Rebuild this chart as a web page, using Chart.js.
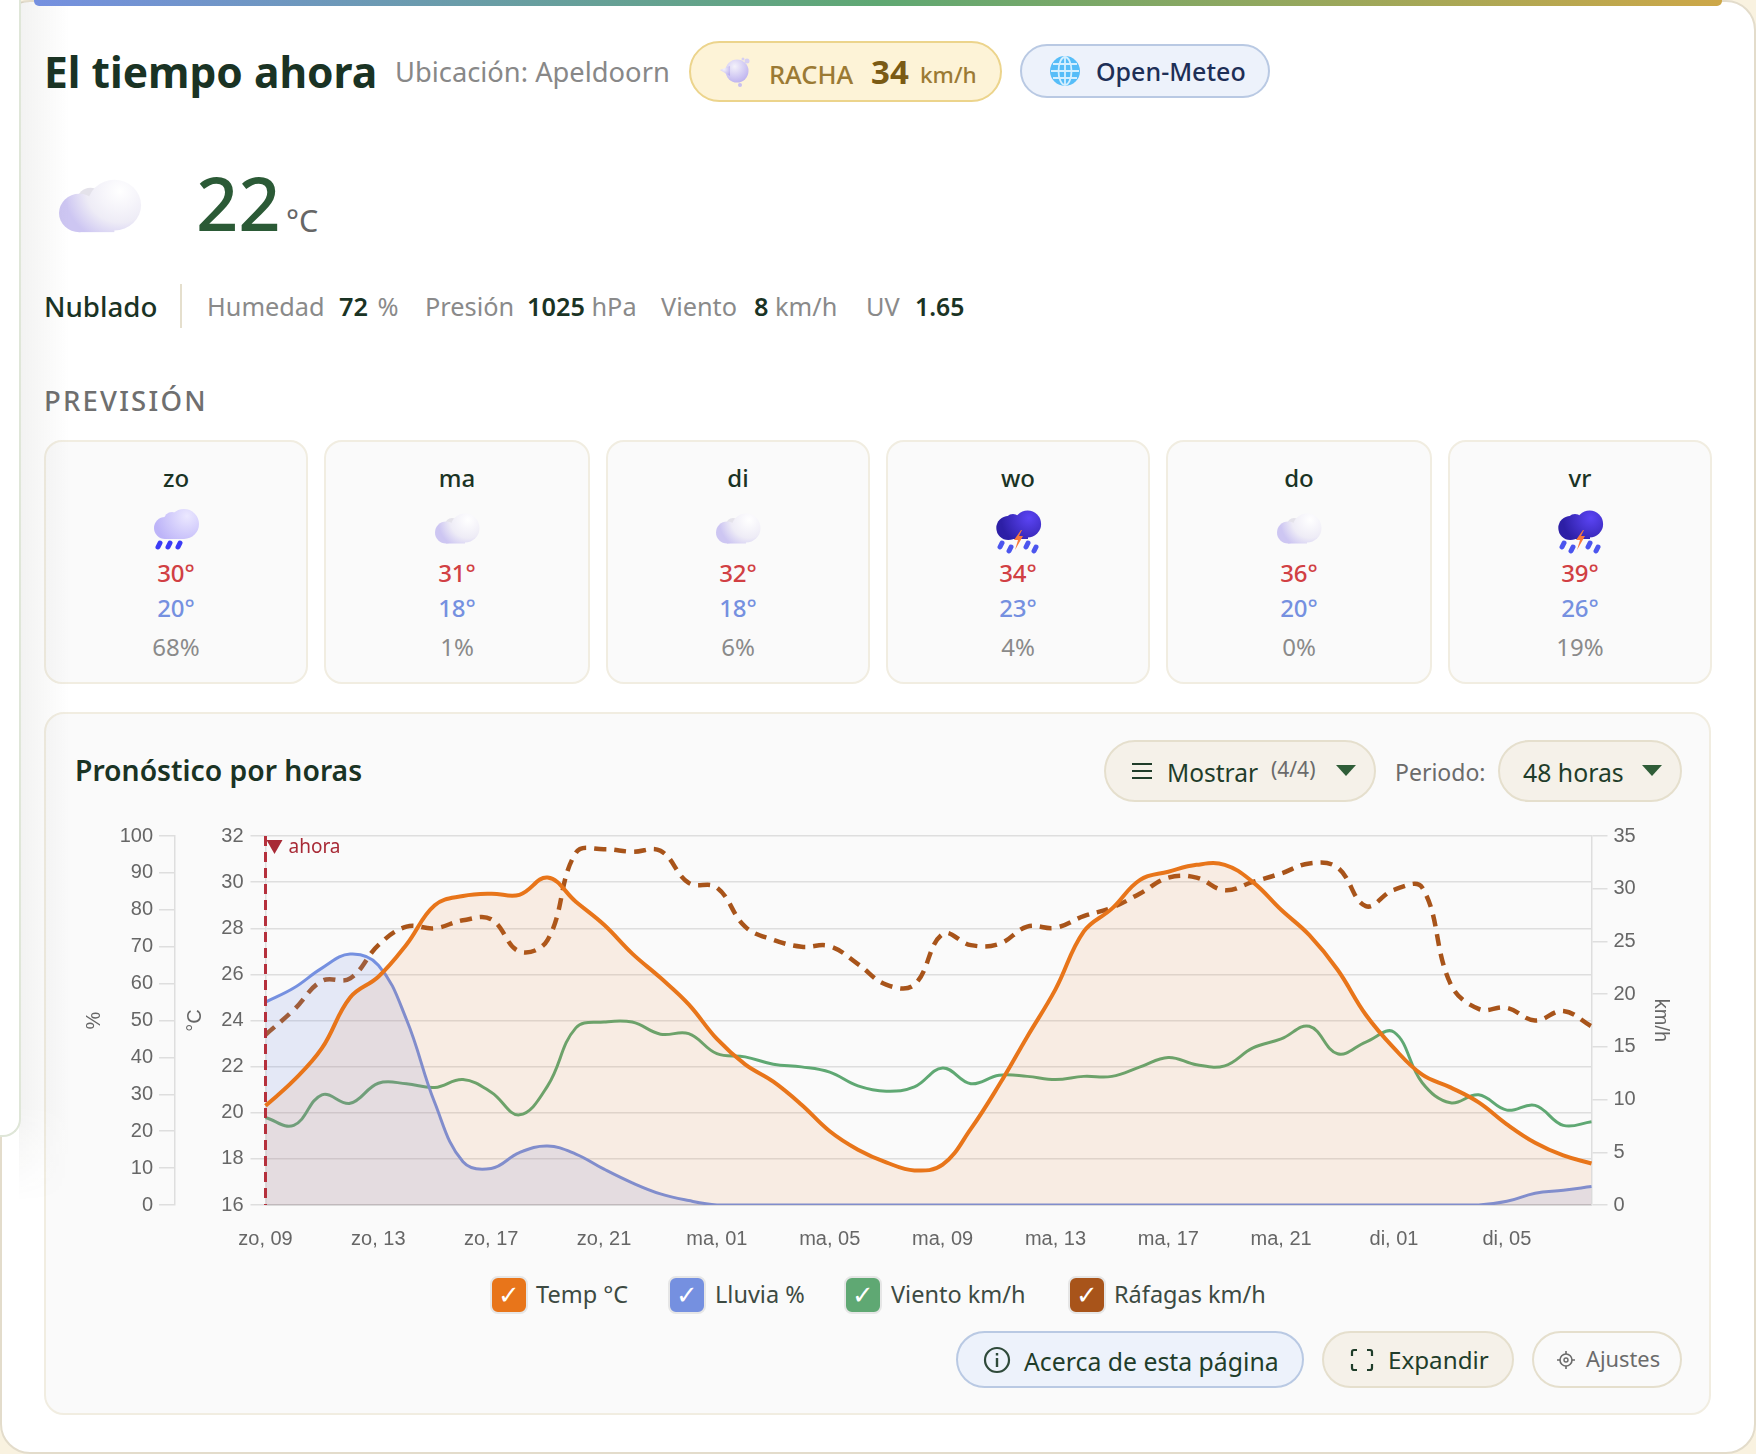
<!DOCTYPE html>
<html lang="es"><head><meta charset="utf-8">
<style>
html,body{margin:0;padding:0;width:1756px;height:1454px;overflow:hidden;background:#f9f2e0;font-family:"Noto Sans","Open Sans",sans-serif}
.a{position:absolute;white-space:nowrap}
#page{position:absolute;left:0;top:0;width:1756px;height:1454px;overflow:hidden}
#card{position:absolute;left:0;top:0;width:1756px;height:1454px;border-radius:30px;background:#fff;border:2px solid #e3dccb;box-sizing:border-box}
#side{position:absolute;left:0;top:-20px;width:19px;height:1155px;background:#fff;border-right:2px solid #dfe6d8;border-bottom:2px solid #dfe6d8;border-radius:0 0 18px 0;box-sizing:content-box;z-index:6}
#shade{position:absolute;left:19px;top:2px;width:50px;height:1200px;background:linear-gradient(90deg,rgba(60,60,50,.065),rgba(60,60,50,0));-webkit-mask-image:linear-gradient(180deg,#000 92%,transparent);z-index:5;pointer-events:none}
#bar{position:absolute;left:34px;top:0;width:1688px;height:6px;border-radius:0 0 5px 5px;background:linear-gradient(90deg,#7590e0,#5fa873 50%,#cda748);z-index:7}
.pill{position:absolute;box-sizing:border-box;border-radius:40px;border:2px solid #e5dfcd;background:#f5f1e9}
.fc{position:absolute;top:440px;height:244px;box-sizing:border-box;border:2px solid #f1ede1;border-radius:18px;background:#fafafa;text-align:center}
.fc div{position:absolute;left:0;right:0;line-height:30px}
.d{top:21px;font-size:24px;font-weight:500;color:#1a3324}
.h{top:116px;font-size:24px;font-weight:500;color:#d13f43}
.l{top:151px;font-size:24px;font-weight:500;color:#7590e0}
.p{top:190px;font-size:24px;color:#8a8a8a}
.fc svg{position:absolute;left:50%;margin-left:-25px;top:62px}
#panel{position:absolute;left:44px;top:712px;width:1667px;height:703px;box-sizing:border-box;border:2px solid #f1ede1;border-radius:20px;background:#fafafa}
#wrap{position:absolute;left:60px;top:817px;width:1640px;height:443px}
.cb{position:absolute;top:1276px;width:38px;height:38px;box-sizing:border-box;border:2px solid #e6e6e6;border-radius:8px;color:#fff;text-align:center;font-size:26px;font-weight:700;line-height:34px;font-family:"DejaVu Sans"}
.lt{position:absolute;top:1276px;line-height:36px;font-size:23.500px;color:#3d4a42;white-space:nowrap}
.s{font-size:25.300px;line-height:34px;color:#8a8a8a;top:289px}
.s b{color:#1a3324;font-weight:600}
</style>
<script src="https://cdn.jsdelivr.net/npm/chart.js@4"></script>
</head><body>
<div id="page">
<div id="card"></div><div id="side"></div><div id="shade"></div><div id="bar"></div>

<svg width="0" height="0" style="position:absolute"><defs>
<radialGradient id="cl" gradientUnits="userSpaceOnUse" cx="36" cy="16" r="30"><stop offset="0" stop-color="#ffffff"/><stop offset=".6" stop-color="#eeecf6"/><stop offset="1" stop-color="#cdc6f2"/></radialGradient>
<radialGradient id="rc" gradientUnits="userSpaceOnUse" cx="36" cy="12" r="32"><stop offset="0" stop-color="#ebe8ff"/><stop offset="1" stop-color="#bdb4f8"/></radialGradient>
<radialGradient id="sc" gradientUnits="userSpaceOnUse" cx="36" cy="14" r="28"><stop offset="0" stop-color="#5b44f4"/><stop offset="1" stop-color="#2d1fa6"/></radialGradient>
<radialGradient id="bl" cx="40%" cy="30%" r="80%"><stop offset="0" stop-color="#f4f2fa"/><stop offset="1" stop-color="#b8acee"/></radialGradient>
<symbol id="cloud" viewBox="0 0 50 50"><circle cx="20" cy="21" r="7" fill="#e4e2ea"/><g fill="url(#cl)"><circle cx="33" cy="24" r="14.500"/><circle cx="14" cy="28.500" r="11"/><rect x="14" y="30" width="19" height="9.500"/></g></symbol>
<symbol id="rain" viewBox="0 0 50 50"><g fill="url(#rc)"><circle cx="33" cy="20" r="15"/><circle cx="14" cy="24" r="11"/><circle cx="21" cy="16" r="8"/><rect x="14" y="25" width="19" height="10"/></g><g stroke="#3b3bf5" stroke-width="5" stroke-linecap="round"><path d="M9 39l-2 4M19 39l-2 4M29 39l-2 4"/></g></symbol>
<symbol id="storm" viewBox="0 0 50 50"><g fill="url(#sc)"><circle cx="15.300" cy="24" r="12"/><circle cx="20" cy="18" r="8"/><circle cx="34.600" cy="20" r="13.500"/><rect x="15" y="24" width="20" height="11"/></g><path d="M28 26l-7 10h4l-3 10 8-14h-4l3-6z" fill="#f97a3c"/><g stroke="#4b55ee" stroke-width="5" stroke-linecap="round"><path d="M9 39l-2 4M18 43l-2 4M35 39l-2 4M43 43l-2 4"/></g></symbol>
</defs></svg>

<div class="a" style="left:44px;top:45px;font-size:42.500px;font-weight:700;line-height:54px;color:#1a3324">El tiempo ahora</div>
<div class="a" style="left:395px;top:54px;font-size:27.300px;line-height:36px;color:#888">Ubicación: Apeldoorn</div>
<div class="pill" style="left:689px;top:41px;width:313px;height:61px;background:#fdf3d7;border-color:#ecd48c"></div>
<svg class="a" style="left:718px;top:56px" width="36" height="32" viewBox="0 0 36 32"><circle cx="19" cy="15" r="11.500" fill="url(#bl)"/><path d="M2 14l10-4v10z" fill="url(#bl)"/><circle cx="29" cy="5" r="2.500" fill="#d7d0f2"/><circle cx="25" cy="3" r="1.500" fill="#d7d0f2"/><circle cx="22" cy="29" r="2" fill="#c8bff0"/></svg>
<div class="a" style="left:769px;top:57px;font-size:25.500px;font-weight:500;line-height:34px;color:#9b7a34">RACHA</div>
<div class="a" style="left:871px;top:50px;font-size:33px;font-weight:700;line-height:44px;color:#7a5a14">34</div>
<div class="a" style="left:920px;top:58px;font-size:22.500px;font-weight:500;line-height:34px;color:#9b7a34">km/h</div>
<div class="pill" style="left:1020px;top:44px;width:250px;height:54px;background:#edf2fb;border-color:#b9c9e3"></div>
<svg class="a" style="left:1049px;top:55px" width="32" height="32" viewBox="0 0 32 32"><circle cx="16" cy="16" r="15" fill="#56bdf8"/><g fill="none" stroke="#d4efff" stroke-width="1.800"><ellipse cx="16" cy="16" rx="6.500" ry="14"/><path d="M2 16h28M4 9h24M4 23h24M16 2v28"/></g></svg>
<div class="a" style="left:1096px;top:54px;font-size:25px;font-weight:500;line-height:34px;color:#1d2f57">Open-Meteo</div>

<svg class="a" style="left:59px;top:179px" width="83" height="54" viewBox="3 9 45 31" preserveAspectRatio="none"><use href="#cloud" width="50" height="50"/></svg>
<div class="a" style="left:196px;top:155px;font-size:74px;font-weight:500;line-height:96px;color:#2b5a36">22</div>
<div class="a" style="left:286px;top:201px;font-size:30.500px;line-height:38px;color:#666">°C</div>

<div class="a" style="left:44px;top:288px;font-size:27.700px;font-weight:500;line-height:36px;color:#1a3324">Nublado</div>
<div class="a" style="left:180px;top:284px;width:2px;height:44px;background:#e5dfcd"></div>
<div class="a s" style="left:207px">Humedad</div>
<div class="a s" style="left:339px"><b>72</b> <span style="margin-left:3px">%</span></div>
<div class="a s" style="left:425px">Presión</div>
<div class="a s" style="left:527px"><b>1025</b> hPa</div>
<div class="a s" style="left:661px">Viento</div>
<div class="a s" style="left:754px"><b>8</b> km/h</div>
<div class="a s" style="left:866px">UV</div>
<div class="a s" style="left:915px;font-size:24.800px"><b>1.65</b></div>

<div class="a" style="left:44px;top:383px;font-size:27.500px;font-weight:500;letter-spacing:2.200px;line-height:36px;color:#6f6f6f">PREVISIÓN</div>

<div class="fc" style="left:44px;width:264px"><div class="d">zo</div><svg width="50" height="50"><use href="#rain"/></svg><div class="h">30°</div><div class="l">20°</div><div class="p">68%</div></div>
<div class="fc" style="left:324px;width:266px"><div class="d">ma</div><svg width="50" height="50"><use href="#cloud"/></svg><div class="h">31°</div><div class="l">18°</div><div class="p">1%</div></div>
<div class="fc" style="left:606px;width:264px"><div class="d">di</div><svg width="50" height="50"><use href="#cloud"/></svg><div class="h">32°</div><div class="l">18°</div><div class="p">6%</div></div>
<div class="fc" style="left:886px;width:264px"><div class="d">wo</div><svg width="50" height="50"><use href="#storm"/></svg><div class="h">34°</div><div class="l">23°</div><div class="p">4%</div></div>
<div class="fc" style="left:1166px;width:266px"><div class="d">do</div><svg width="50" height="50"><use href="#cloud"/></svg><div class="h">36°</div><div class="l">20°</div><div class="p">0%</div></div>
<div class="fc" style="left:1448px;width:264px"><div class="d">vr</div><svg width="50" height="50"><use href="#storm"/></svg><div class="h">39°</div><div class="l">26°</div><div class="p">19%</div></div>

<div id="panel"></div>
<div class="a" style="left:75px;top:752px;font-size:28.300px;font-weight:600;line-height:36px;color:#1a3324">Pronóstico por horas</div>
<div class="pill" style="left:1104px;top:740px;width:272px;height:62px"></div>
<div class="a" style="left:1132px;top:763px;width:20px;height:16px;box-sizing:border-box;border-top:2px solid #1f3d2a;border-bottom:2px solid #1f3d2a"></div>
<div class="a" style="left:1132px;top:770px;width:20px;height:2px;background:#1f3d2a"></div>
<div class="a" style="left:1167px;top:756px;font-size:24.500px;line-height:34px;color:#1f3d2a">Mostrar</div>
<div class="a" style="left:1271px;top:752px;font-size:21px;line-height:34px;color:#6b6b6b">(4/4)</div>
<div class="a" style="left:1336px;top:765px;width:0;height:0;border-left:10px solid transparent;border-right:10px solid transparent;border-top:11px solid #2f5d38"></div>
<div class="a" style="left:1395px;top:755px;font-size:23px;line-height:34px;color:#6b6b6b">Periodo:</div>
<div class="pill" style="left:1498px;top:740px;width:184px;height:62px"></div>
<div class="a" style="left:1523px;top:755px;font-size:24.800px;line-height:34px;color:#1f3d2a">48 horas</div>
<div class="a" style="left:1642px;top:765px;width:0;height:0;border-left:10px solid transparent;border-right:10px solid transparent;border-top:11px solid #2f5d38"></div>

<div id="wrap"><canvas id="c" width="1640" height="443"></canvas></div>

<div class="cb" style="left:490px;background:#e8751a">✓</div><div class="lt" style="left:536px">Temp °C</div>
<div class="cb" style="left:668px;background:#7590e0">✓</div><div class="lt" style="left:715px">Lluvia %</div>
<div class="cb" style="left:844px;background:#5fa873">✓</div><div class="lt" style="left:891px">Viento km/h</div>
<div class="cb" style="left:1068px;background:#a8541a">✓</div><div class="lt" style="left:1114px">Ráfagas km/h</div>

<div class="pill" style="left:956px;top:1331px;width:348px;height:57px;background:#edf2fb;border-color:#b9c9e3"></div>
<svg class="a" style="left:983px;top:1346px" width="28" height="28" viewBox="0 0 28 28"><circle cx="14" cy="14" r="12" fill="none" stroke="#2f4a3a" stroke-width="2.200"/><path d="M14 12v9M14 7v2.500" stroke="#2f4a3a" stroke-width="2.400"/></svg>
<div class="a" style="left:1024px;top:1344px;font-size:24.800px;line-height:34px;color:#1f3d2a">Acerca de esta página</div>
<div class="pill" style="left:1322px;top:1331px;width:192px;height:57px"></div>
<svg class="a" style="left:1350px;top:1348px" width="24" height="24" viewBox="0 0 24 24"><path d="M2 8V4a2 2 0 0 1 2-2h3M17 2h3a2 2 0 0 1 2 2v4M22 16v4a2 2 0 0 1-2 2h-3M7 22H4a2 2 0 0 1-2-2v-4" fill="none" stroke="#1f3d2a" stroke-width="2.200"/></svg>
<div class="a" style="left:1388px;top:1343px;font-size:24.200px;line-height:34px;color:#1f3d2a">Expandir</div>
<div class="pill" style="left:1532px;top:1331px;width:150px;height:57px;background:#fafafa"></div>
<svg class="a" style="left:1556px;top:1350px" width="20" height="20" viewBox="0 0 20 20"><circle cx="10" cy="10" r="6" fill="none" stroke="#6b6b6b" stroke-width="1.600"/><circle cx="10" cy="10" r="2" fill="none" stroke="#6b6b6b" stroke-width="1.400"/><path d="M10 1v3M10 16v3M1 10h3M16 10h3" stroke="#6b6b6b" stroke-width="1.600"/></svg>
<div class="a" style="left:1586px;top:1342px;font-size:21.800px;line-height:34px;color:#6b6b6b">Ajustes</div>
</div>

<script>
const hourLabels=["zo, 09","zo, 10","zo, 11","zo, 12","zo, 13","zo, 14","zo, 15","zo, 16","zo, 17","zo, 18","zo, 19","zo, 20","zo, 21","zo, 22","zo, 23","zo, 00","ma, 01","ma, 02","ma, 03","ma, 04","ma, 05","ma, 06","ma, 07","ma, 08","ma, 09","ma, 10","ma, 11","ma, 12","ma, 13","ma, 14","ma, 15","ma, 16","ma, 17","ma, 18","ma, 19","ma, 20","ma, 21","ma, 22","ma, 23","ma, 00","di, 01","di, 02","di, 03","di, 04","di, 05","di, 06","di, 07","di, 08"];
const tempValues=[20.3,21.4,22.8,25.0,25.9,27.3,29.0,29.4,29.5,29.45,30.2,29.15,28.15,26.9,25.85,24.7,23.2,22.1,21.35,20.35,19.2,18.4,17.85,17.5,17.75,19.3,21.2,23.3,25.35,27.85,28.85,30.1,30.45,30.75,30.75,30.0,28.8,27.7,26.2,24.25,22.8,21.65,21.1,20.45,19.5,18.7,18.15,17.8];
const rainValues=[55,58.8,64.2,68,65,50.2,27.7,11.7,9.9,14.2,16,13.8,9.7,6,3,1.2,0,0,0,0,0,0,0,0,0,0,0,0,0,0,0,0,0,0,0,0,0,0,0,0,0,0,0,0,1,3.2,4,5];
const windValues=[8.3,7.55,10.45,9.65,11.55,11.5,11.15,11.9,10.7,8.55,11.3,16.8,17.35,17.35,16.2,16.25,14.35,14.05,13.35,13.1,12.6,11.3,10.8,11.2,13.0,11.5,12.3,12.2,11.9,12.2,12.2,13.1,14.0,13.3,13.2,14.9,15.75,16.95,14.35,15.45,16.4,11.6,9.7,10.45,9.0,9.45,7.55,7.9];
const gustValues=[16.15,18.5,21.25,21.5,24.65,26.4,26.25,27,27.1,24.05,25.15,33.4,33.75,33.5,33.6,30.55,30.1,26.4,25.15,24.5,24.55,22.85,20.9,20.9,25.7,24.65,24.75,26.4,26.3,27.4,28.2,29.55,31.05,31.05,29.85,30.65,31.45,32.4,32,28.35,29.9,30.1,21,18.6,18.7,17.5,18.4,16.95];
const nowLabel="ahora";

const tickFont={family:'"Liberation Sans",Arial,sans-serif',size:20};
const titleFont={family:'"Liberation Sans",Arial,sans-serif',size:20};
const gridCol='#dedede';
const tickCol='#666';
const fixW=w=>(s=>{s.width=w});

const nowPlugin={id:'nowMarker',afterDatasetsDraw(ch){
  const {ctx,chartArea:a,scales:{x}}=ch;const px=x.getPixelForValue(0);
  ctx.save();ctx.strokeStyle='#b5303c';ctx.lineWidth=3;ctx.setLineDash([10,6]);
  ctx.beginPath();ctx.moveTo(px,a.top);ctx.lineTo(px,a.bottom);ctx.stroke();ctx.setLineDash([]);
  ctx.fillStyle='#a82a36';ctx.beginPath();ctx.moveTo(px+1,a.top+4);ctx.lineTo(px+17,a.top+4);ctx.lineTo(px+9,a.top+18);ctx.closePath();ctx.fill();
  ctx.font='19px "Noto Sans"';ctx.textAlign='left';ctx.textBaseline='middle';ctx.fillText(nowLabel,px+23,a.top+12);
  ctx.restore();
}};

new Chart(document.getElementById('c'),{
 type:'line',
 data:{labels:hourLabels,datasets:[
  {label:'Temp °C',data:tempValues,yAxisID:'yT',borderColor:'#e8751a',backgroundColor:'rgba(232,117,26,0.10)',borderWidth:4,fill:'origin',tension:0.4,pointRadius:0},
  {label:'Lluvia %',data:rainValues,yAxisID:'yR',borderColor:'#7590e0',backgroundColor:'rgba(117,144,224,0.17)',borderWidth:3,fill:'origin',tension:0.4,pointRadius:0},
  {label:'Viento km/h',data:windValues,yAxisID:'yW',borderColor:'#5fa873',backgroundColor:'transparent',borderWidth:3,fill:false,tension:0.4,pointRadius:0},
  {label:'Ráfagas km/h',data:gustValues,yAxisID:'yW',borderColor:'#a8541a',backgroundColor:'transparent',borderWidth:4.5,borderDash:[12,8],fill:false,tension:0.4,pointRadius:0}
 ]},
 plugins:[nowPlugin],
 options:{responsive:false,animation:false,devicePixelRatio:1,
  layout:{padding:{top:0,left:0,right:0,bottom:0}},
  plugins:{legend:{display:false},title:{display:false},tooltip:{enabled:false}},
  scales:{
   x:{offset:false,grid:{display:false},border:{color:'#ccc',width:1.5},afterFit:s=>{s.height=55},
      ticks:{autoSkip:false,maxRotation:0,minRotation:0,padding:14,color:tickCol,font:tickFont,callback(v,i){return i%4===0?hourLabels[i]:null}}},
   yT:{position:'left',min:16,max:32,afterFit:fixW(90.5),
      ticks:{stepSize:2,padding:7,color:tickCol,font:tickFont},
      grid:{color:gridCol,tickLength:15,lineWidth:1.5},border:{color:gridCol,width:1.5},
      title:{display:true,text:'°C',color:tickCol,font:titleFont,padding:{top:8,bottom:0}}},
   yR:{position:'left',min:0,max:100,afterFit:fixW(115),
      ticks:{stepSize:10,padding:6,color:tickCol,font:tickFont},
      grid:{drawOnChartArea:false,tickLength:16,color:gridCol,lineWidth:1.5},border:{color:gridCol,width:1.5},
      title:{display:true,text:'%',color:tickCol,font:titleFont,padding:{top:22,bottom:0}}},
   yW:{position:'right',min:0,max:35,afterFit:fixW(108.5),
      ticks:{stepSize:5,padding:6,color:tickCol,font:tickFont},
      grid:{drawOnChartArea:false,tickLength:16,color:gridCol,lineWidth:1.5},border:{color:gridCol,width:1.5},
      title:{display:true,text:'km/h',color:tickCol,font:titleFont,padding:{top:27,bottom:0}}}
  }
 }
});
</script>
</body></html>
